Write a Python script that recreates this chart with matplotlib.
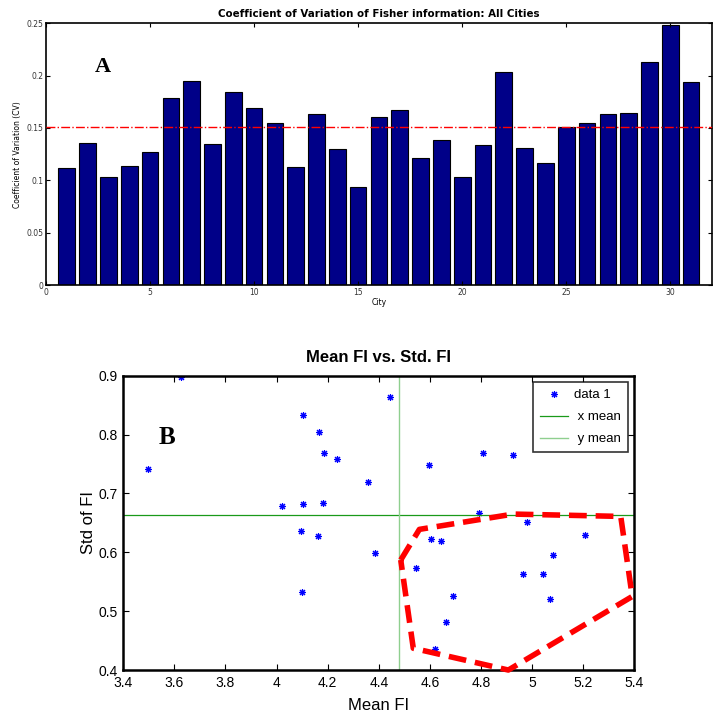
import numpy as np
import matplotlib
matplotlib.use("Agg")
import matplotlib.pyplot as plt

# Coefficient of variation per city
cities = np.arange(1, 32)
cv_values = [0.112, 0.136, 0.103, 0.114, 0.127, 0.179, 0.195, 0.135, 0.184, 0.169,
             0.155, 0.1125, 0.163, 0.130, 0.094, 0.160, 0.167, 0.121, 0.139, 0.103,
             0.1335, 0.2036, 0.131, 0.117, 0.151, 0.155, 0.1636, 0.1645, 0.2126, 0.248,
             0.1938]

# Mean and std of Fisher information per city
mean_fi = [3.498, 3.626, 4.102, 4.165, 4.187, 4.236, 4.444, 4.359, 4.020, 4.103,
           4.183, 4.094, 4.161, 4.384, 4.098, 4.598, 4.809, 4.926, 4.793, 4.979,
           4.603, 4.645, 5.207, 5.083, 4.546, 4.966, 5.044, 5.069, 4.689, 4.662,
           4.621]
std_fi = [0.741, 0.898, 0.834, 0.805, 0.768, 0.758, 0.864, 0.719, 0.679, 0.682,
          0.683, 0.637, 0.628, 0.598, 0.533, 0.748, 0.768, 0.766, 0.667, 0.652,
          0.623, 0.619, 0.629, 0.596, 0.573, 0.564, 0.564, 0.521, 0.526, 0.481,
          0.436]

# Outline around the high-mean / low-std group
region_x = [4.486, 4.559, 4.926, 5.347, 5.392, 4.907, 4.535, 4.486]
region_y = [0.587, 0.639, 0.665, 0.661, 0.525, 0.400, 0.437, 0.587]

narrow = ["Liberation Sans Narrow", "Liberation Sans", "DejaVu Sans"]

fig = plt.figure(figsize=(7.13, 7.16), dpi=100)

# --- A: bar chart ---
ax1 = fig.add_axes([0.0645, 0.6015, 0.934, 0.3663])
ax1.bar(cities, cv_values, width=0.8, color="#000088", edgecolor="black", linewidth=0.8)
ax1.axhline(np.mean(cv_values), color="red", linestyle="-.", linewidth=1.0, zorder=3)
ax1.set_xlim(0, 32)
ax1.set_ylim(0, 0.25)
ax1.set_xticks([0, 5, 10, 15, 20, 25, 30])
ax1.set_yticks([0, 0.05, 0.1, 0.15, 0.2, 0.25])
ax1.set_yticklabels(["0", "0.05", "0.1", "0.15", "0.2", "0.25"])
ax1.tick_params(direction="in", length=3, labelsize=5.5, labelcolor="#333333",
                top=True, right=True, pad=2)
ax1.set_title("Coefficient of Variation of Fisher information: All Cities",
              fontsize=7.4, fontweight="bold", pad=4)
ax1.set_xlabel("City", fontsize=5.5, labelpad=1)
ax1.set_ylabel("Coefficient of Variation (CV)", fontsize=5.5, labelpad=3)
ax1.text(0.0856, 0.832, "A", transform=ax1.transAxes, fontsize=16, fontweight="bold",
         family="Liberation Serif", ha="center", va="center")
for s in ax1.spines.values():
    s.set_linewidth(1.2)

# --- B: scatter of mean vs std ---
ax2 = fig.add_axes([0.1729, 0.0642, 0.7167, 0.411])
ax2.plot(mean_fi, std_fi, linestyle="none", marker=(8, 2, 0), markersize=5,
         markeredgewidth=0.8, color="blue", label="data 1")
ax2.axhline(np.mean(std_fi), color="#1a9a1a", linewidth=0.9, label=" x mean")
ax2.axvline(np.mean(mean_fi), color="#8fcf8f", linewidth=1.0, label=" y mean")
ax2.plot(region_x, region_y, color="red", linestyle=(0, (3.2, 1.6)), linewidth=4,
         clip_on=False, zorder=3)
ax2.set_xlim(3.4, 5.4)
ax2.set_ylim(0.4, 0.9)
ax2.set_xticks(np.round(np.arange(3.4, 5.41, 0.2), 1))
ax2.set_xticklabels(["3.4", "3.6", "3.8", "4", "4.2", "4.4", "4.6", "4.8", "5", "5.2", "5.4"])
ax2.set_yticks([0.4, 0.5, 0.6, 0.7, 0.8, 0.9])
ax2.tick_params(direction="in", length=4, labelsize=10, top=True, right=True, pad=4)
for lab in ax2.get_xticklabels() + ax2.get_yticklabels():
    lab.set_family(narrow)
ax2.set_title("Mean FI vs. Std. FI", fontsize=12, fontweight="bold", family=narrow, pad=10)
ax2.set_xlabel("Mean FI", fontsize=12, family=narrow, labelpad=6)
ax2.set_ylabel("Std of FI", fontsize=12, family=narrow, labelpad=2)
ax2.text(0.085, 0.791, "B", transform=ax2.transAxes, fontsize=18, fontweight="bold",
         family="Liberation Serif", ha="center", va="center")
for s in ax2.spines.values():
    s.set_linewidth(1.8)

leg = ax2.legend(loc="upper right", fancybox=False, edgecolor="black",
                 prop={"family": narrow, "size": 9.5}, borderaxespad=0.5,
                 handlelength=2.1, handletextpad=0.5, labelspacing=0.75,
                 borderpad=0.5)
leg.get_frame().set_linewidth(1.2)

fig.savefig("out.png", dpi=100)
